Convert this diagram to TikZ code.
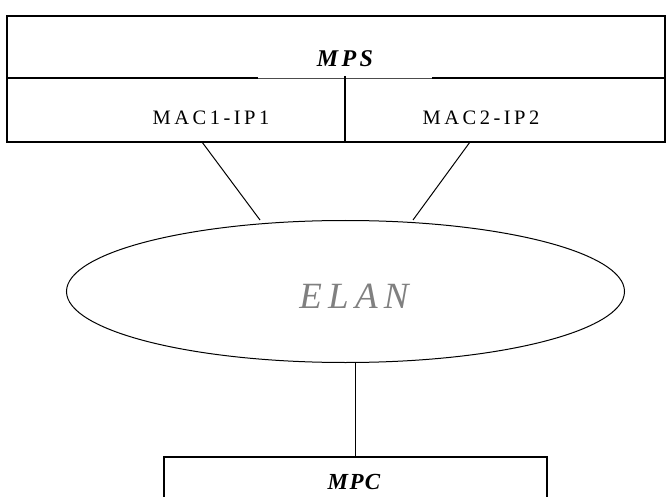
\documentclass[tikz,border=0pt]{standalone}
\usepackage{fontspec}
\setmainfont{Liberation Serif}
\newfontfamily\macfont[LetterSpace=17]{Liberation Serif}
\newfontfamily\mpsfont[LetterSpace=14]{Liberation Serif}
\newfontfamily\mpcfont[LetterSpace=6]{Liberation Serif}
\newfontfamily\elanfont[LetterSpace=17]{Liberation Serif}
\usetikzlibrary{shapes.geometric}
\definecolor{elangray}{RGB}{128,128,128}
\tikzset{
  boxline/.style={draw=black, line width=1.2pt},
  conn/.style={draw=black, line width=1pt},
  lbl/.style={inner sep=0pt, font=\macfont\fontsize{20.5}{23}\selectfont},
}
\begin{document}
\begin{tikzpicture}[x=1pt,y=-1pt]
\useasboundingbox (0,0) rectangle (672,497);
% MPS box
\draw[boxline] (7,16) rectangle (665,142);
\draw[boxline] (7,78) -- (258,78);
\draw[draw=black!70, line width=0.6pt] (258,78) -- (432,78);
\draw[boxline] (432,78) -- (665,78);
\draw[boxline] (345,76) -- (345,142);
\node[inner sep=0pt, font=\mpsfont\fontsize{24}{28}\selectfont\bfseries\itshape] (mps) at (345,59) {MPS};
\node[lbl] (mac1) at (211,118) {MAC1-IP1};
\node[lbl] (mac2) at (481,118) {MAC2-IP2};
\coordinate (m1) at (202,142);
\coordinate (m2) at (470,142);
% ELAN
\node[ellipse, draw=black, line width=1pt, minimum width=558, minimum height=142, inner sep=0pt] (elan) at (345.5,291.5) {};
\node[inner sep=0pt, text=elangray, font=\elanfont\fontsize{37}{41}\selectfont\itshape] (elant) at (354,296) {ELAN};
\coordinate (e1) at (260,220);
\coordinate (e2) at (413,220);
\draw[conn] (m1) -- (e1);
\draw[conn] (m2) -- (e2);
% MPC
\coordinate (mpcc) at (355,457);
\draw[conn] (elan.south -| mpcc) -- (mpcc);
\draw[boxline] (164,520) -- (164,457) -- (547,457) -- (547,520);
\node[inner sep=0pt, font=\mpcfont\fontsize{23}{27}\selectfont\bfseries\itshape] (mpc) at (354,482) {MPC};
\end{tikzpicture}
\end{document}
